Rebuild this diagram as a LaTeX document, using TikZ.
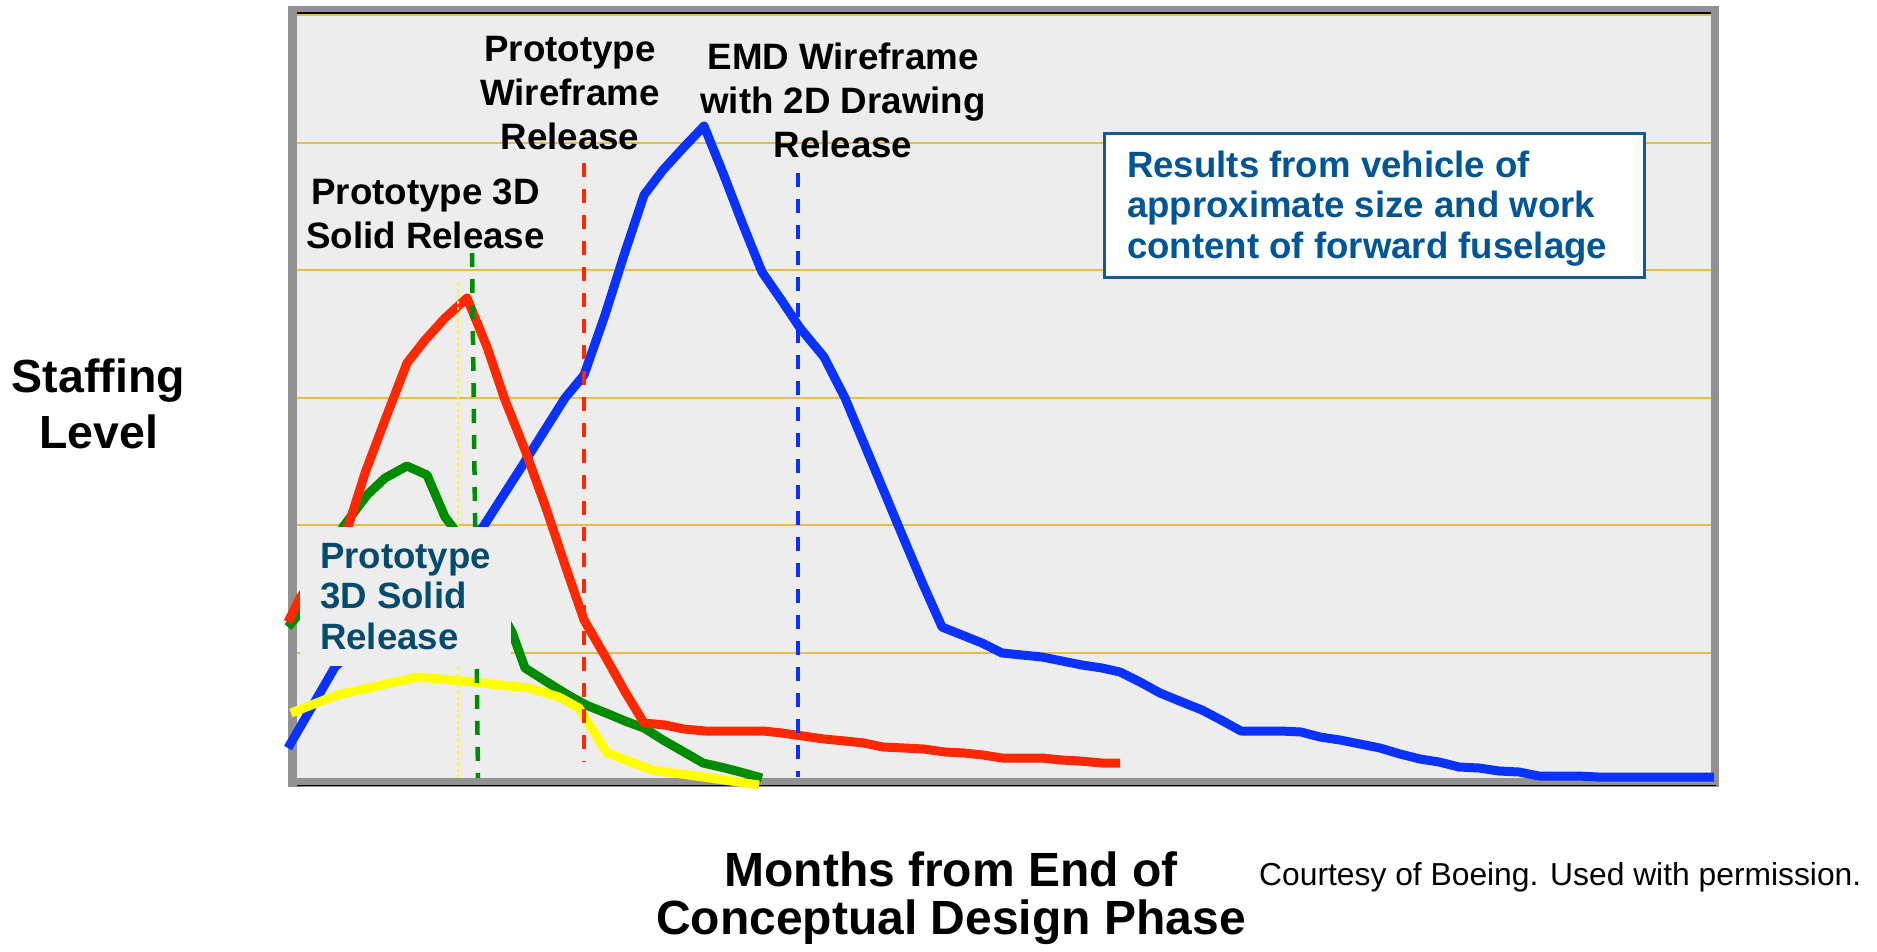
\documentclass[tikz,border=0pt]{standalone}
\usepackage{fontspec}
\setmainfont{Liberation Sans}
\definecolor{bggray}{RGB}{237,237,237}
\definecolor{framegray}{RGB}{146,146,146}
\definecolor{gridgold}{RGB}{232,190,64}
\definecolor{cred}{RGB}{255,40,0}
\definecolor{cblue}{RGB}{10,50,255}
\definecolor{cgreen}{RGB}{0,140,0}
\definecolor{cyellow}{RGB}{255,255,0}
\definecolor{boxblue}{RGB}{0,85,150}
\definecolor{boxedge}{RGB}{25,90,150}
\definecolor{tealtext}{RGB}{5,75,110}
\begin{document}
\begin{tikzpicture}[x=1pt,y=-1pt,
  curve/.style={line width=9pt, line join=round},
  vdash/.style={line width=4.5pt, dash pattern=on 14pt off 12pt},
  gridline/.style={draw=gridgold, line width=1.8pt},
  lbl/.style={font=\bfseries\fontsize{36.7}{44}\selectfont, align=center, inner sep=0pt, anchor=base},
  boxtext/.style={font=\bfseries\fontsize{36.6}{40.5}\selectfont, align=left, inner sep=0pt, anchor=base west},
]
\useasboundingbox (0,0) rectangle (1877,951);
\fill[white] (0,0) rectangle (1877,951);
% frame
\fill[framegray] (288,6) rectangle (1719,787);
\fill[bggray] (297,13) rectangle (1711,778);
\draw[black, line width=1.5pt] (297,13) -- (1711,13);
\draw[black, line width=1.5pt] (297,785.5) -- (1716,785.5);
% gridlines
\foreach \gy in {15,143,270,398,525,653}
  \draw[gridline] (297,\gy) -- (1711,\gy);
% results box
\node[draw=boxedge, line width=3pt, fill=white, minimum width=540pt, minimum height=144pt, inner sep=0pt] (resbox) at (1374,205) {};
% curves
\draw[curve, cblue] plot coordinates {(288,748) (335,667) (483,527) (524,463) (565,398) (584,375) (605,315) (624,255) (644,195) (663,170) (684,147) (704,126) (723,173) (743,225) (762,272) (782,301) (800,328) (824,357) (845,398) (903,537) (922,582) (942,627) (962,635) (982,643) (1002,653) (1022,655) (1042,657) (1062,661) (1082,665) (1102,668) (1120,672) (1140,682) (1160,693) (1182,702) (1202,710) (1221,720) (1241,731) (1261,731) (1281,731) (1301,732) (1320,737) (1340,740) (1360,744) (1380,748) (1400,754) (1420,759) (1439,762) (1459,767) (1479,768) (1499,771) (1519,772) (1539,776) (1558,776) (1578,776) (1598,777) (1714,777)};
\draw[curve, cgreen] plot coordinates {(288,627) (298,615) (343,527) (367,495) (385,478) (407,466) (427,475) (445,517) (455,530) (512,632) (525,668) (547,682) (568,695) (586,705) (606,713) (625,721) (644,728) (663,740) (684,752) (703,763) (725,768) (744,773) (762,778)};
\draw[curve, cred] plot coordinates {(288,622) (300,598) (348,527) (365,473) (385,420) (407,363) (425,340) (445,318) (467,298) (487,347) (505,400) (525,450) (546,508) (565,565) (584,620) (605,656) (624,690) (644,723) (665,725) (684,729) (705,731) (725,731) (744,731) (763,731) (782,733) (803,736) (824,739) (845,741) (864,743) (883,747) (904,748) (924,749) (945,752) (964,753) (983,755) (1002,758) (1023,758) (1042,758) (1061,760) (1080,761) (1102,763) (1120,763)};
\draw[curve, cyellow] plot coordinates {(291,713) (337,695) (418,677) (471,682) (529,688) (559,697) (579,708) (607,753) (652,770) (703,777) (759,785)};
% release markers
\coordinate (ydtop) at (458,283); \coordinate (ydbot) at (458,778);
\draw[cyellow, line width=2pt, dash pattern=on 3pt off 3pt] (ydtop) -- (ydbot);
\coordinate (gdtop) at (472,253); \coordinate (gdbot) at (478,778);
\draw[vdash, cgreen] (gdtop) -- (gdbot);
\coordinate (rdtop) at (584,163); \coordinate (rdbot) at (584,762);
\draw[vdash, cred] (rdtop) -- (rdbot);
\coordinate (bdtop) at (798,173); \coordinate (bdbot) at (798,777);
\draw[vdash, cblue] (bdtop) -- (bdbot);
% teal label box
\node[fill=bggray, minimum width=211pt, minimum height=139pt, inner sep=0pt] (p3dbox) at (405.5,596.5) {};
\node[boxtext, text=tealtext] (p3dtext) at (320,649) {Prototype\\3D Solid\\Release};
% results text
\node[boxtext, text=boxblue] (restext) at (1127,258) {Results from vehicle of\\approximate size and work\\content of forward fuselage};
% black labels
\node[lbl] (p3dlbl) at (425.5,248) {Prototype 3D\\Solid Release};
\node[lbl] (pwrlbl) at (570,149) {Prototype\\Wireframe\\Release};
\node[lbl] (emdlbl) at (843,157) {EMD Wireframe\\with 2D Drawing\\Release};
% axis labels
\node[font=\bfseries\fontsize{46.5}{56}\selectfont, align=center, inner sep=0pt, anchor=base] (ylabel) at (98.5,448) {Staffing\\Level};
\node[font=\bfseries\fontsize{48}{48}\selectfont, align=center, inner sep=0pt, anchor=base] (xlabel) at (951,934) {Months from End of\\Conceptual Design Phase};
\node[font=\fontsize{31.8}{38}\selectfont, inner sep=0pt, anchor=base west] (credit) at (1259,885) {Courtesy of Boeing. Used with permission.};
\end{tikzpicture}
\end{document}
